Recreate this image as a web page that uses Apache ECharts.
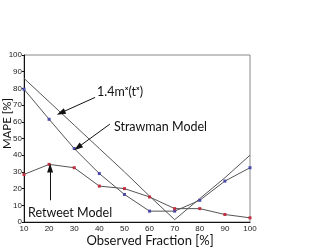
<!DOCTYPE html>
<html><head><meta charset="utf-8">
<script src="https://cdn.jsdelivr.net/npm/echarts@6/dist/echarts.min.js"></script>
<style>html,body{margin:0;padding:0;background:#fff}#c{width:325px;height:249px}</style>
</head><body><div id="c"></div>
<script>
var fractions = [10, 20, 30, 40, 50, 60, 70, 80, 90, 100];
var formulaModel = [86, 72, 58, 44, 30, 15.5, 1.4, 14, 26.5, 40];
var strawmanModel = [79.5, 61.5, 44, 29, 16.5, 6.5, 6.5, 13, 24.5, 32.5];
var retweetModel = [28.5, 34.5, 32.5, 21.5, 20, 15, 8, 8, 4.5, 2.5];
var yTicks = [0, 10, 20, 30, 40, 50, 60, 70, 80, 90, 100];
var notes = [
  {text: '1.4mˣ(tˣ)', at: [39.1, 77.8]},
  {text: 'Strawman Model', at: [45.8, 56.8]},
  {text: 'Retweet Model', at: [11.6, 5.2]}
];

var chart = echarts.init(document.getElementById('c'), null, {renderer: 'canvas'});
var fontFam = 'Lato, "Open Sans", sans-serif';
function pairs(v) { return fractions.map(function (x, i) { return [x, v[i]]; }); }

var arrowStyle = {color: '#111', width: 1, type: 'solid'};
function arrow(from, to) {
  return [{coord: from, symbol: 'none'}, {coord: to, symbol: 'triangle'}];
}

chart.setOption({
  animation: false,
  grid: {left: 24, right: 75, top: 55, bottom: 27, show: true, borderColor: '#888', borderWidth: 1,
    containLabel: false, outerBoundsMode: 'none'},
  xAxis: {
    type: 'value', min: 10, max: 100, interval: 10,
    name: 'Observed Fraction [%]', nameLocation: 'middle', nameGap: 12, nameMoveOverlap: false,
    nameTextStyle: {fontSize: 13, fontFamily: fontFam, color: '#111', padding: [0, 0, 0, 26]},
    axisLine: {lineStyle: {color: '#111'}},
    axisTick: {show: false},
    axisLabel: {fontSize: 8, color: '#222', margin: 3, fontFamily: 'Liberation Sans'},
    splitLine: {show: false}
  },
  yAxis: {
    type: 'value', min: 0, max: 100, interval: 10,
    name: 'MAPE [%]', nameLocation: 'middle', nameGap: 11, nameMoveOverlap: false,
    nameTextStyle: {fontSize: 11.5, fontFamily: fontFam, color: '#111', padding: [0, 0, 0, 30]},
    axisLine: {show: true, lineStyle: {color: '#111'}},
    axisTick: {show: true, length: 2, lineStyle: {color: '#111'}},
    axisLabel: {fontSize: 8, color: '#222', margin: 2, fontFamily: 'Liberation Sans',
      formatter: function (v) { return yTicks.indexOf(v) >= 0 ? String(v) : ''; }},
    splitLine: {show: false}
  },
  series: [
    {type: 'line', name: '1.4m^x(t^x)', data: pairs(formulaModel), showSymbol: false, symbol: 'none',
      lineStyle: {color: '#555', width: 1}, z: 2,
      markLine: {silent: true, symbol: ['none', 'triangle'], symbolSize: [6, 9], lineStyle: arrowStyle,
        label: {show: false}, animation: false,
        data: [arrow([38.3, 74.6], [24.7, 65.4]), arrow([44.2, 58.6], [31.4, 44.6]), arrow([20.4, 13], [20.4, 32.3])]}
    },
    {type: 'line', name: 'Strawman Model', data: pairs(strawmanModel), symbol: 'rect', symbolSize: 3,
      itemStyle: {color: '#4a4aa8'}, lineStyle: {color: '#555', width: 1}, z: 3},
    {type: 'line', name: 'Retweet Model', data: pairs(retweetModel), symbol: 'rect', symbolSize: 3,
      itemStyle: {color: '#c03040'}, lineStyle: {color: '#555', width: 1}, z: 3}
  ]
});

chart.setOption({
  graphic: notes.map(function (n) {
    var p = chart.convertToPixel({gridIndex: 0}, n.at);
    return {type: 'text', x: p[0], y: p[1], silent: true, z: 10,
      style: {text: n.text, fill: '#111', fontSize: 12.5, fontFamily: fontFam,
        textAlign: 'left', textVerticalAlign: 'middle'}};
  })
});
</script></body></html>
